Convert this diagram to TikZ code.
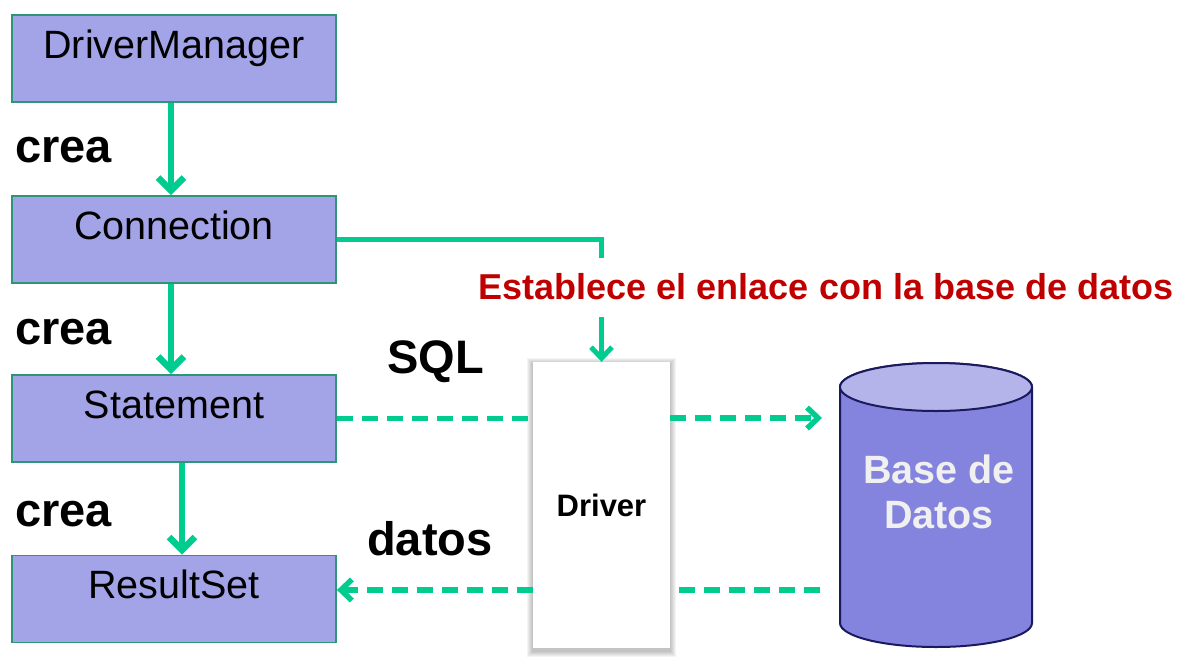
\documentclass[tikz,border=0pt]{standalone}
\usepackage{fontspec}
\setmainfont{Liberation Sans}
\usetikzlibrary{arrows.meta,backgrounds}
\definecolor{boxfill}{RGB}{163,163,232}
\definecolor{boxline}{RGB}{45,150,120}
\definecolor{flowc}{RGB}{0,204,143}
\definecolor{redc}{RGB}{192,0,0}
\definecolor{dbbody}{RGB}{132,132,222}
\definecolor{dbtop}{RGB}{180,180,235}
\definecolor{dbline}{RGB}{26,26,94}
\definecolor{dbtext}{RGB}{240,240,240}
\tikzset{
  classbox/.style={draw=boxline, line width=1.8pt, fill=boxfill, minimum width=324pt,
    inner xsep=0pt, inner ysep=0pt, text height=43pt, text depth=44pt,
    font=\fontsize{39.5}{44}\selectfont},
  crealbl/.style={anchor=base west, inner sep=0pt, font=\fontsize{47}{52}\selectfont\bfseries},
  flow/.style={draw=flowc, line width=6.5pt, -{Straight Barb[length=13pt,width=26pt]}},
  linkline/.style={draw=flowc, line width=5pt, -{Straight Barb[length=11pt,width=21pt]}},
  dline/.style={draw=flowc, line width=5.5pt, dash pattern=on 16pt off 9pt},
  darrow/.style={dline, -{Straight Barb[length=11pt,width=21pt]}},
  driverbox/.style={fill=white, minimum width=137pt, minimum height=286pt,
    font=\fontsize{31}{35}\selectfont\bfseries},
  softshadow/.style={fill=black, fill opacity=0.045},
}
\begin{document}
\begin{tikzpicture}[x=1pt,y=-1pt]
\useasboundingbox (0,0) rectangle (1180,664);
% class boxes
\node[classbox] (dm) at (174,58.5) {DriverManager};
\node[classbox] (con) at (174,239.5) {Connection};
\node[classbox] (st) at (174,418.5) {Statement};
\node[classbox] (rs) at (174,599) {ResultSet};
% crea labels
\node[crealbl] (c1) at (15,162) {crea};
\node[crealbl] (c2) at (15,344) {crea};
\node[crealbl] (c3) at (15,526) {crea};
% creation arrows
\draw[flow] ([xshift=-3pt]dm.south) -- ([xshift=-3pt]con.north);
\draw[flow] ([xshift=-3pt]con.south) -- ([xshift=-3pt]st.north);
\draw[flow] ([xshift=8pt]st.south) -- ([xshift=8pt]rs.north);
% driver
\node[driverbox] (drv) at (601.5,505) {Driver};
\begin{scope}[on background layer]
  \foreach \i in {0.5,1.5,2.5,3.5,4.5,5.5}
    \fill[softshadow] ([shift={(-\i,-\i+2)}]drv.north west) rectangle ([shift={(\i,\i+3)}]drv.south east);
\end{scope}
% connection to driver
\draw[linkline] (con.east) -| (drv.north);
\node[anchor=base, fill=white, inner xsep=2pt, text height=41pt, text depth=18pt, inner ysep=0pt,
  text=redc, font=\fontsize{36}{40}\selectfont\bfseries] (est) at (826,299) {Establece el enlace con la base de datos};
% labels
\node[anchor=base west, inner sep=0pt, font=\fontsize{47}{52}\selectfont\bfseries] (sql) at (387,373) {SQL};
\node[anchor=base west, inner sep=0pt, font=\fontsize{47}{52}\selectfont\bfseries] (dat) at (367,555) {datos};
% database cylinder
\fill[dbbody, draw=dbline, line width=2pt] (840,387) -- (840,623)
  arc[start angle=180, end angle=360, x radius=96pt, y radius=24pt]
  -- (1032,387) arc[start angle=0, end angle=180, x radius=96pt, y radius=24pt] -- cycle;
\draw[fill=dbtop, draw=dbline, line width=2pt] (936,387) ellipse [x radius=96pt, y radius=24pt];
\node[align=center, text=dbtext, font=\fontsize{39.5}{45}\selectfont\bfseries, inner sep=0pt] (db) at (939,492) {Base de\\Datos};
\coordinate (dbin) at (822,418);
\coordinate (dbout) at (820,590);
% dashed data flows
\draw[dline] (st.east) -- (drv.west |- st.east);
\draw[darrow] (drv.east |- dbin) -- (dbin);
\draw[dline] (dbout) -- (drv.east |- dbout);
\draw[darrow] (drv.west |- dbout) -- (rs.east |- dbout);
\end{tikzpicture}
\end{document}
